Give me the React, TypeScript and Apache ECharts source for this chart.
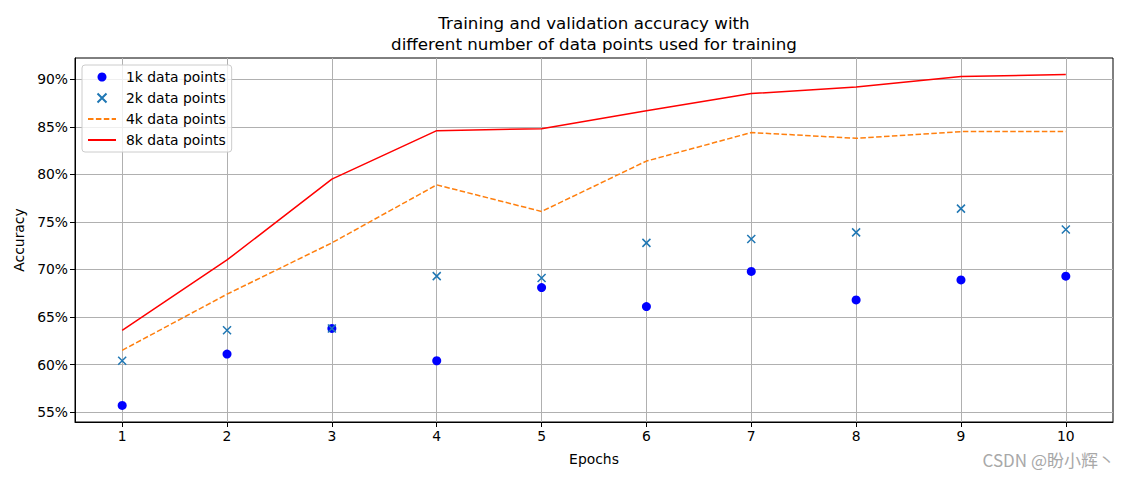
import React, { useEffect, useRef } from 'react';
import * as echarts from 'echarts';

const epochs = [1, 2, 3, 4, 5, 6, 7, 8, 9, 10];
const acc1k = [55.7, 61.1, 63.8, 60.4, 68.1, 66.1, 69.8, 66.8, 68.9, 69.3];
const acc2k = [60.4, 63.6, 63.8, 69.3, 69.1, 72.8, 73.2, 73.9, 76.4, 74.2];
const acc4k = [61.5, 67.4, 72.8, 78.9, 76.1, 81.4, 84.4, 83.8, 84.5, 84.5];
const acc8k = [63.6, 71.0, 79.5, 84.6, 84.8, 86.7, 88.5, 89.2, 90.3, 90.5];
const yTicks = [55, 60, 65, 70, 75, 80, 85, 90];
const seriesNames = ['1k data points', '2k data points', '4k data points', '8k data points'];

const FONT = 'DejaVu Sans';
const FS = 13.9;

export default function App() {
  const ref = useRef<HTMLDivElement>(null);
  useEffect(() => {
    if (!ref.current) return;
    const chart = echarts.init(ref.current, undefined, { renderer: 'svg' });
    const pair = (ys: number[]) => epochs.map((x, i) => [x, ys[i]]);
    chart.setOption({
      animation: false,
      backgroundColor: '#ffffff',
      textStyle: { fontFamily: FONT },
      title: {
        text: 'Training and validation accuracy with\ndifferent number of data points used for training',
        left: 589,
        textAlign: 'center',
        top: 7,
        textStyle: { fontFamily: FONT, fontSize: 16.7, fontWeight: 'normal', color: '#000', lineHeight: 21 },
      },
      grid: {
        left: 75, right: 15, top: 58, bottom: 58,
        show: true, borderColor: '#000', borderWidth: 1, backgroundColor: 'transparent',
      },
      legend: {
        orient: 'vertical',
        left: 82,
        top: 65,
        data: [
          { name: seriesNames[0] },
          { name: seriesNames[1] },
          { name: seriesNames[2], itemStyle: { opacity: 0 } },
          { name: seriesNames[3], itemStyle: { opacity: 0 } },
        ],
        itemWidth: 28,
        itemHeight: 9,
        itemGap: 5,
        padding: [4, 6, 4, 5],
        borderColor: '#cccccc',
        borderWidth: 1,
        borderRadius: 3,
        backgroundColor: 'rgba(255,255,255,0.8)',
        textStyle: { fontFamily: FONT, fontSize: FS, color: '#000', lineHeight: 16, padding: [0, 0, 0, 5] },
      },
      xAxis: {
        type: 'value',
        min: 0.55,
        max: 10.45,
        name: 'Epochs',
        nameLocation: 'middle',
        nameGap: 30,
        nameTextStyle: { fontFamily: FONT, fontSize: FS, color: '#000' },
        axisLine: { show: true, lineStyle: { color: '#000', width: 1 } },
        axisTick: { show: true, length: 5, lineStyle: { color: '#000' }, customValues: epochs },
        axisLabel: { color: '#000', fontSize: FS, fontFamily: FONT, margin: 7, customValues: epochs },
        splitLine: { show: true, lineStyle: { color: '#b0b0b0', width: 1 } },
      },
      yAxis: {
        type: 'value',
        min: 53.96,
        max: 92.24,
        name: 'Accuracy',
        nameLocation: 'middle',
        nameGap: 49,
        nameTextStyle: { fontFamily: FONT, fontSize: FS, color: '#000' },
        axisLine: { show: true, lineStyle: { color: '#000', width: 1 } },
        axisTick: { show: true, length: 5, lineStyle: { color: '#000' }, customValues: yTicks },
        axisLabel: { color: '#000', fontSize: FS, fontFamily: FONT, margin: 7, customValues: yTicks, formatter: (v: number) => v + '%' },
        splitLine: { show: true, lineStyle: { color: '#b0b0b0', width: 1 } },
      },
      graphic: [
        {
          type: 'text',
          right: 13,
          top: 451,
          style: { text: 'CSDN @盼小辉丶', fontSize: 17, fill: '#a8a8a8', fontFamily: 'Noto Sans CJK SC' },
        },
      ],
      series: [
        {
          name: seriesNames[0],
          type: 'scatter',
          data: pair(acc1k),
          symbol: 'circle',
          symbolSize: 9,
          itemStyle: { color: '#0000ff', opacity: 1 },
          z: 4,
        },
        {
          name: seriesNames[1],
          type: 'scatter',
          data: pair(acc2k),
          symbol: 'path://M0,0L10,10M10,0L0,10',
          symbolSize: 8,
          symbolKeepAspect: true,
          itemStyle: { color: 'none', borderColor: '#1f77b4', borderWidth: 1.5, opacity: 1 },
          z: 4,
        },
        {
          name: seriesNames[2],
          type: 'line',
          data: pair(acc4k),
          symbol: 'none',
          lineStyle: { color: '#ff7f0e', width: 1.5, type: [5.5, 2.4] },
          itemStyle: { color: '#ff7f0e' },
          z: 3,
        },
        {
          name: seriesNames[3],
          type: 'line',
          data: pair(acc8k),
          symbol: 'none',
          lineStyle: { color: '#ff0000', width: 1.5 },
          itemStyle: { color: '#ff0000' },
          z: 3,
        },
      ],
    });
    return () => chart.dispose();
  }, []);
  return <div ref={ref} style={{ position: 'fixed', left: 0, top: 0, width: 1128, height: 480 }} />;
}
